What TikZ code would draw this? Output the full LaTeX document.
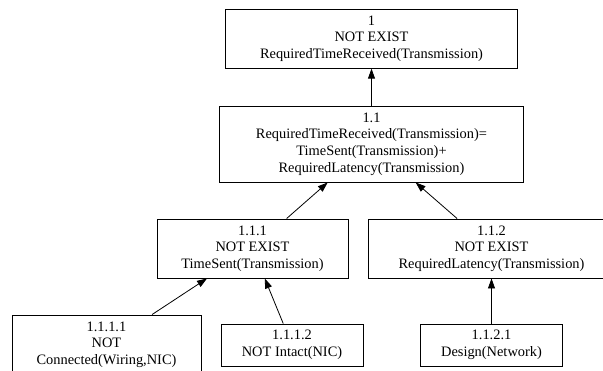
\documentclass[tikz,border=0pt]{standalone}
\usepackage{fontspec}
\setmainfont{Liberation Serif}
\usetikzlibrary{arrows.meta}
\begin{document}
\begin{tikzpicture}[x=1pt,y=-1pt]
	\tikzstyle{every node}=[font=\fontsize{14.4}{16.6}\selectfont]
	\tikzstyle{goal}=[draw, line width=0.9pt, inner sep=0pt, align=center, minimum height=59pt]
	\tikzstyle{leaf}=[goal, minimum height=42pt]
	\tikzstyle{link}=[line width=0.8pt, -{Triangle[length=10pt,width=7pt]}]
	\useasboundingbox (0,0) rectangle (603,371);
	\node [goal, minimum width=292pt] (g1) at (371.5,38.7) {1\\NOT EXIST\\RequiredTimeReceived(Transmission)};
	\node [goal, minimum width=304pt, minimum height=76pt] (g11) at (371.5,144) {1.1\\RequiredTimeReceived(Transmission)=\\TimeSent(Transmission)+\\RequiredLatency(Transmission)};
	\node [goal, minimum width=191pt] (g111) at (252.5,248.5) {1.1.1\\NOT EXIST\\TimeSent(Transmission)};
	\node [goal, minimum width=247pt] (g112) at (491.5,248.5) {1.1.2\\NOT EXIST\\RequiredLatency(Transmission)};
	\node [goal, minimum width=189pt] (g1111) at (106.5,344.5) {1.1.1.1\\NOT\\Connected(Wiring,NIC)};
	\node [leaf, minimum width=142pt] (g1112) at (292,345) {1.1.1.2\\NOT Intact(NIC)};
	\node [leaf, minimum width=142pt] (g1121) at (491.5,345) {1.1.2.1\\Design(Network)};
	\draw [link] (g11) -- (g1);
	\draw [link] (g111) -- (g11);
	\draw [link] (g112) -- (g11);
	\draw [link] (g1111) -- (g111);
	\draw [link] (g1112) -- (g111);
	\draw [link] (g1121) -- (g112);
\end{tikzpicture}
\end{document}
